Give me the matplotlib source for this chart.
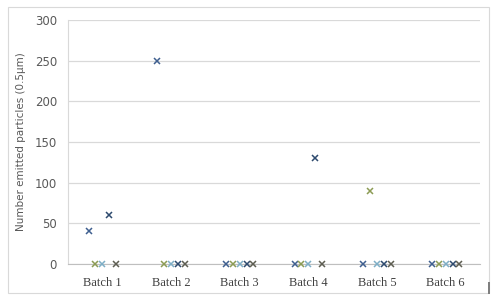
import matplotlib
matplotlib.use("Agg")
import matplotlib.pyplot as plt
from matplotlib.patches import Rectangle
import numpy as np

batches = ["Batch 1", "Batch 2", "Batch 3", "Batch 4", "Batch 5", "Batch 6"]
series_1 = [40, 250, 0, 0, 0, 0]
series_2 = [0, 0, 0, 0, 90, 0]
series_3 = [0, 0, 0, 0, 0, 0]
series_4 = [60, 0, 0, 130, 0, 0]
series_5 = [0, 0, 0, 0, 0, 0]
series = [series_1, series_2, series_3, series_4, series_5]
colors = ["#3f5f8f", "#8c9b55", "#7eaec6", "#2e4a6e", "#5e5e52"]
offsets = [-0.2, -0.1, 0.0, 0.1, 0.2]
yticks = [0, 50, 100, 150, 200, 250, 300]

fig = plt.figure(figsize=(5, 3.08), dpi=100)
fig.patches.append(Rectangle((8/500, 1-293/308), 481/500, 286/308, transform=fig.transFigure,
                             fill=False, edgecolor="#d9d9d9", linewidth=0.8))
fig.patches.append(Rectangle((488/500, 1-294/308), 2/500, 12/308, transform=fig.transFigure,
                             facecolor="#7f7f7f", edgecolor="none"))
ax = fig.add_axes([68/500, 1-264/308, 412/500, 244/308])

x = np.arange(len(batches))
for vals, c, off in zip(series, colors, offsets):
    ax.plot(x + off, vals, linestyle="none", marker="x", color=c, markersize=4.5,
            markeredgewidth=1.1, clip_on=False, zorder=3)

ax.set_xlim(-0.5, len(batches) - 0.5)
ax.set_ylim(0, 300)
ax.set_yticks(yticks)
ax.set_yticklabels([str(v) for v in yticks], fontsize=8.5, color="#595959", family="DejaVu Sans")
ax.set_xticks(x)
ax.set_xticklabels(batches, fontsize=9, color="#404040", family="Liberation Serif")
ax.tick_params(axis="x", length=0, pad=9)
ax.tick_params(axis="y", length=0, pad=8)
ax.grid(axis="y", color="#d9d9d9", linewidth=0.9)
ax.set_axisbelow(True)
for s in ["top", "right"]:
    ax.spines[s].set_visible(False)
ax.spines["left"].set_color("#d9d9d9")
ax.spines["bottom"].set_color("#bfbfbf")
ax.set_ylabel("Number emitted particles (0.5µm)", fontsize=7.5, color="#595959", labelpad=6)

fig.savefig("out.png", dpi=100)
